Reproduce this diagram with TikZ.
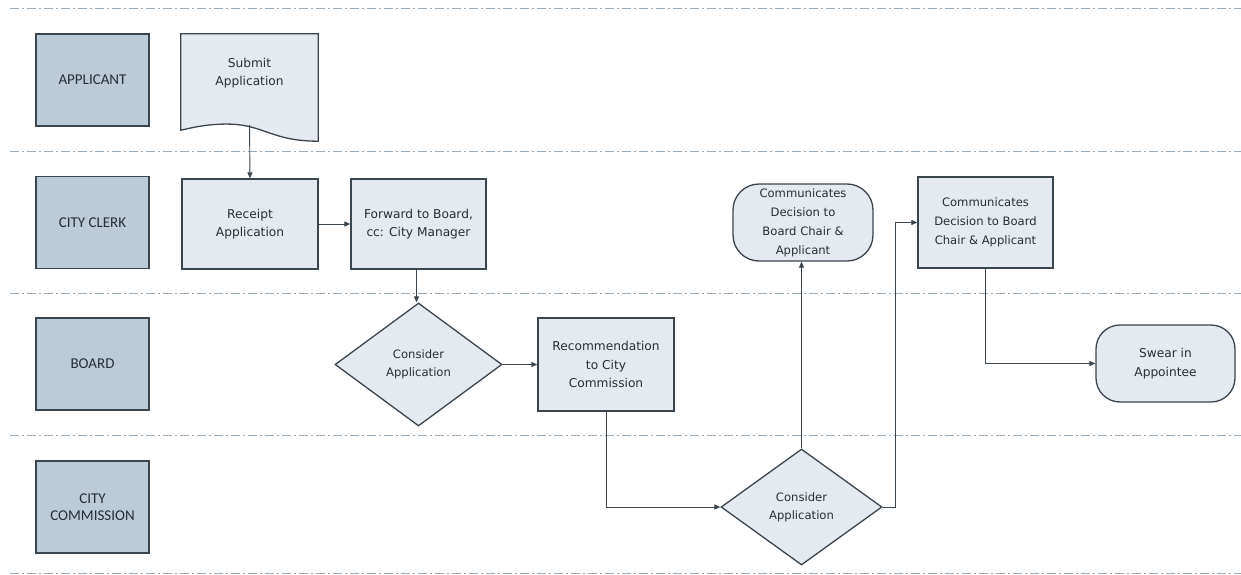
\documentclass[tikz,border=0pt]{standalone}
\usepackage{fontspec}
\setmainfont{DejaVu Sans}
\newfontfamily\lanefont{Carlito}
\usetikzlibrary{shapes.geometric,arrows.meta}
\definecolor{lanefill}{HTML}{BCCBD8}
\definecolor{nodefill}{HTML}{E4EAF0}
\definecolor{edgec}{HTML}{3B454E}
\definecolor{sepline}{HTML}{98AAB8}
\definecolor{txt}{HTML}{262E36}
\begin{document}
\begin{tikzpicture}[x=1pt,y=-1pt,
  lane/.style={draw=edgec,line width=1.3pt,fill=lanefill,minimum width=113pt,minimum height=92pt,inner sep=0pt,align=center,font=\lanefont\fontsize{15}{17}\selectfont,text=txt},
  proc/.style={draw=edgec,line width=1.3pt,fill=nodefill,inner sep=0pt,align=center,font=\fontsize{12.2}{18.5}\selectfont,text=txt},
  dia/.style={proc,diamond,font=\fontsize{11.6}{18.3}\selectfont},
  term/.style={proc,rounded corners=26pt},
  arr/.style={draw=edgec,line width=0.9pt,-{Triangle[length=6pt,width=5pt]}},
  sep/.style={draw=sepline,line width=0.9pt,dash pattern=on 9pt off 3pt on 1.5pt off 3.5pt}]
\useasboundingbox (0,0) rectangle (1241,575);
\fill[white] (0,0) rectangle (1241,575);

% lane separators
\foreach \yy in {8,151,293,435,573} \draw[sep] (10,\yy) -- (1241,\yy);

% lane labels
\node[lane] (lapp) at (92.5,80) {APPLICANT};
\node[lane] (lclerk) at (92.5,222.5) {CITY CLERK};
\node[lane] (lboard) at (92.5,364) {BOARD};
\node[lane] (lcomm) at (92.5,507) {CITY\\COMMISSION};

% document shape
\node[minimum width=137pt,minimum height=91pt,inner sep=0pt] (submit) at (249.5,79.5) {};
\filldraw[draw=edgec,fill=nodefill,line width=1.3pt,line join=miter]
  (submit.north west) -- (submit.north east) -- ([yshift=-16pt]submit.south east)
  .. controls ([xshift=-50pt,yshift=-16pt]submit.south east) and ([xshift=-55pt,yshift=3pt]submit.south east) .. ([xshift=-98pt,yshift=1pt]submit.south east)
  .. controls ([xshift=-118pt,yshift=0pt]submit.south east) and ([xshift=-128pt,yshift=-3pt]submit.south east) .. ([yshift=-5pt]submit.south west)
  -- cycle;
\node[align=center,font=\fontsize{12.2}{18.5}\selectfont,text=txt] at (249.5,73) {Submit\\Application};

% process nodes
\node[proc,minimum width=136pt,minimum height=90pt] (receipt) at (250,224) {Receipt\\Application};
\node[proc,minimum width=135pt,minimum height=90pt] (forward) at (418.5,224) {Forward to Board,\\cc: City Manager};
\node[dia,minimum width=167pt,minimum height=123pt] (cons1) at (418.5,364.5) {Consider\\Application};
\node[proc,minimum width=136pt,minimum height=93pt] (recom) at (606,364.5) {Recommendation\\to City\\Commission};
\node[dia,minimum width=161pt,minimum height=116pt] (cons2) at (801.5,507) {Consider\\Application};
\node[term,minimum width=140pt,minimum height=77pt,font=\fontsize{11.6}{19}\selectfont] (comm1) at (803,222.5) {Communicates\\Decision to\\Board Chair \&\\Applicant};
\node[proc,minimum width=135pt,minimum height=91pt,font=\fontsize{11.6}{19}\selectfont] (comm2) at (985.5,222.5) {Communicates\\Decision to Board\\Chair \& Applicant};
\node[term,rounded corners=24pt,minimum width=139pt,minimum height=77pt] (swear) at (1165.5,363.5) {Swear in\\Appointee};

% connectors
\draw[arr] (submit.south) -- (receipt.north);
\draw[arr] (receipt.east) -- (forward.west);
\draw[arr] ([xshift=-2pt]forward.south) -- ([xshift=-2pt]forward.south |- cons1.north);
\draw[arr] (cons1.east) -- (recom.west);
\draw[arr] (recom.south) |- (cons2.west);
\draw[arr] (cons2.north) -- (cons2.north |- comm1.south);
\draw[arr] (cons2.east) -| ([xshift=-22pt]comm2.west) -- (comm2.west);
\draw[arr] (comm2.south) |- (swear.west);
\end{tikzpicture}
\end{document}
